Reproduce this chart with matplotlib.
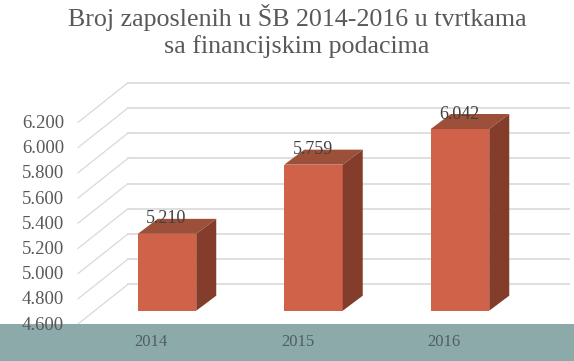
import matplotlib
matplotlib.use("Agg")
import matplotlib.pyplot as plt
from matplotlib.patches import Polygon

plt.rcParams['font.family'] = ['Liberation Serif', 'DejaVu Serif']

years = ["2014", "2015", "2016"]
employees = [5210, 5759, 6042]
value_labels = ["5.210", "5.759", "6.042"]
axis_values = [4600, 4800, 5000, 5200, 5400, 5600, 5800, 6000, 6200]
axis_labels = ["4.600", "4.800", "5.000", "5.200", "5.400", "5.600", "5.800", "6.000", "6.200"]
title = "Broj zaposlenih u ŠB 2014-2016 u tvrtkama\nsa financijskim podacima"

# axes fill the whole figure, scales worked out from the picture
px_x = 146.5      # pixels per category
px_y = 25.2 / 200  # pixels per employee
W, H = 574, 361
base_px = 310.7   # pixel row of value 4600 at the bar front

fig = plt.figure(figsize=(W / 100, H / 100), dpi=100)
ax = fig.add_axes([0, 0, 1, 1])
ax.set_xlim(-167 / px_x, (W - 167) / px_x)
ax.set_ylim(4600 - (H - base_px) / px_y, 4600 + base_px / px_y)
ax.axis("off")

grid_c = "#D9D9D9"
text_c = "#595959"

# oblique offsets for the fake 3d
wall_dx, wall_dy = 50 / px_x, 39.7 / px_y
wall_x0 = (78 - 167) / px_x
wall_x1 = (569 - 167) / px_x
front_shift = -13.3 / px_y
bar_w = 58.5 / px_x
depth_x, depth_y = 20 / px_x, 15 / px_y

for v, lab in zip(axis_values, axis_labels):
    y0 = v + front_shift
    ax.plot([wall_x0, wall_x0 + wall_dx], [y0, y0 + wall_dy], color=grid_c, lw=0.9, zorder=1)
    ax.plot([wall_x0 + wall_dx, wall_x1], [y0 + wall_dy, y0 + wall_dy], color=grid_c, lw=1.2, zorder=1)
    ax.text(-103 / px_x, y0 - 1.2 / px_y, lab, ha="right", va="center", fontsize=13.5, color=text_c, zorder=6)

# bottom band
ax.axhspan(ax.get_ylim()[0], 4600 + front_shift, color="#8CAAA9", lw=0, zorder=4)

for i, (yr, v, lab) in enumerate(zip(years, employees, value_labels)):
    ax.bar(i, v - 4600, bottom=4600, width=bar_w, color="#D0624A", zorder=3)
    l, r = i - bar_w / 2, i + bar_w / 2
    ax.add_patch(Polygon([(l, v), (r, v), (r + depth_x, v + depth_y), (l + depth_x, v + depth_y)],
                         color="#9C4F39", lw=0, zorder=3))
    ax.add_patch(Polygon([(r, 4600), (r + depth_x, 4600 + depth_y), (r + depth_x, v + depth_y), (r, v)],
                         color="#843D2B", lw=0, zorder=3))
    ax.text(i - 1 / px_x, v + 15 / px_y, lab, ha="center", va="center", fontsize=13, color="#404040", zorder=5)
    ax.text(i - 16 / px_x, 4600 - 31.5 / px_y, yr, ha="center", va="center", fontsize=12, color="#4F5F5F", zorder=6)

fig.text(297 / W, 1 - 31 / H, title, ha="center", va="center", fontsize=18.7,
         color=text_c, linespacing=1.2)

fig.savefig("out.png", dpi=100)
